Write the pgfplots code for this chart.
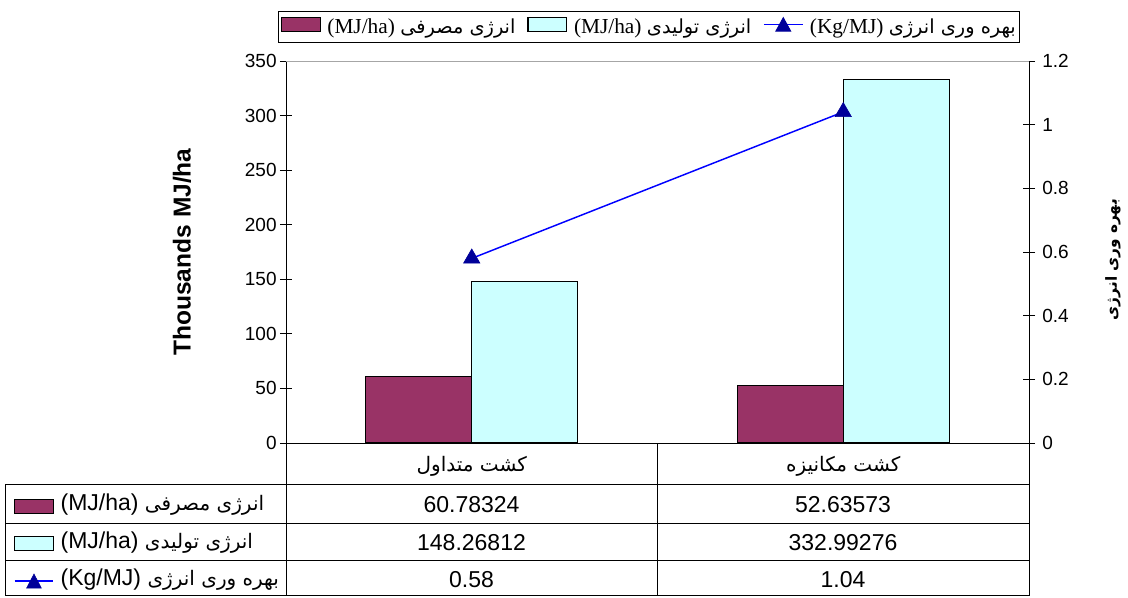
\documentclass[border=0pt]{standalone}
\usepackage{fontspec}
\setmainfont{Liberation Sans}
\newfontfamily\serifrm{Liberation Serif}
\newfontfamily\fa[Script=Arabic]{DejaVu Sans}
\usepackage{pgfplots}
\pgfplotsset{compat=1.18}
\TeXXeTstate=1
\definecolor{barA}{HTML}{993366}
\definecolor{barB}{HTML}{CCFFFF}
\definecolor{lineC}{HTML}{0000FF}
\definecolor{markC}{HTML}{000099}
\newcommand{\fs}[1]{\fontsize{#1}{#1}\selectfont}

\begin{document}
\begin{tikzpicture}[x=0.75pt,y=-0.75pt]
\useasboundingbox (0,0) rectangle (1128,597);
\begin{axis}[
  at={(214.5pt,-332.25pt)}, anchor=south west,
  scale only axis, width=557.25pt, height=286.5pt,
  xmin=-0.5, xmax=1.5, ymin=0, ymax=350,
  axis x line*=bottom, axis y line*=left,
  axis line style={-, line width=0.75pt, black},
  ytick={0,50,100,150,200,250,300,350},
  xtick={0,1},
  xticklabels={{\fa\beginR کشت متداول\endR},{\fa\beginR کشت مکانیزه\endR}},
  x tick style={draw=none},
  xticklabel style={anchor=base, yshift=-17pt, font=\fs{15pt}},
  y tick style={black, line width=0.75pt},
  tick align=center, major tick length=9pt,
  yticklabel style={font=\fs{14.25pt}, xshift=1pt},
  /pgf/number format/assume math mode=true,
  ylabel={\bfseries Thousands MJ/ha},
  ylabel style={at={(axis description cs:-0.14,0.5)}, anchor=center, font=\fs{18.4pt}},
  clip=false,
  legend cell align=left,
  legend style={at={(axis description cs:-0.3661,-0.1073)}, anchor=north west,
    draw=none, fill=none, inner sep=0pt, outer sep=0pt, row sep=0pt,
    font=\fs{17.25pt},
    nodes={inner sep=0pt, text height=20pt, text depth=8pt},
    /tikz/every odd column/.append style={column sep=5pt}},
]
\addplot[ybar, bar width=0.285, bar shift=-0.1425, fill=barA, draw=black, line width=0.9pt, forget plot]
  coordinates {(0,60.78324) (1,52.63573)};
\addplot[ybar, bar width=0.285, bar shift=0.1425, fill=barB, draw=black, line width=0.9pt, forget plot]
  coordinates {(0,148.26812) (1,332.99276)};
\addlegendimage{legend image code/.code={\draw[fill=barA,draw=black,line width=0.9pt] (0pt,-8pt) rectangle (29pt,2.5pt);}}
\addlegendentry{(MJ/ha)~{\fa\fs{15pt}\beginR انرژی مصرفی\endR}}
\addlegendimage{legend image code/.code={\draw[fill=barB,draw=black,line width=0.9pt] (0pt,-8pt) rectangle (29pt,2.5pt);}}
\addlegendentry{(MJ/ha)~{\fa\fs{15pt}\beginR انرژی تولیدی\endR}}
\addlegendimage{legend image code/.code={\draw[lineC,line width=1pt] (0pt,-2.75pt) -- (29pt,-2.75pt); \fill[markC] (9pt,-8pt) -- (20pt,-8pt) -- (14.5pt,2.5pt) -- cycle;}}
\addlegendentry{(Kg/MJ)~{\fa\fs{15pt}\beginR بهره وری انرژی\endR}}
\end{axis}

\begin{axis}[
  at={(214.5pt,-332.25pt)}, anchor=south west,
  scale only axis, width=557.25pt, height=286.5pt,
  xmin=-0.5, xmax=1.5, ymin=0, ymax=1.2,
  axis y line*=right, axis x line=none,
  axis line style={-, line width=0.75pt, black},
  ytick={0,0.2,0.4,0.6,0.8,1,1.2},
  y tick style={black, line width=0.75pt},
  tick align=center, major tick length=9pt,
  yticklabel style={font=\fs{14.25pt}, xshift=2pt},
  /pgf/number format/assume math mode=true,
  ylabel={\fa\bfseries\beginR بهره وری انرژی\endR},
  ylabel style={at={(axis description cs:1.113,0.48)}, anchor=center, font=\fs{11.5pt}},
  clip=false,
  legend columns=3,
  legend style={at={(axis description cs:0.4886,1.089)}, anchor=center,
    draw=black, line width=0.75pt, fill=white, inner xsep=2pt, inner ysep=4.5pt,
    font=\fs{16pt}\serifrm,
    nodes={inner sep=1pt},
    /tikz/every odd column/.append style={column sep=4pt},
    /tikz/every even column/.append style={column sep=8pt}},
]
\addlegendimage{legend image code/.code={\draw[fill=barA,draw=black,line width=0.9pt] (0pt,-3pt) rectangle (29pt,7pt);}}
\addlegendentry{(MJ/ha)~{\fa\fs{14.5pt}\beginR انرژی مصرفی\endR}}
\addlegendimage{legend image code/.code={\draw[fill=barB,draw=black,line width=0.9pt] (0pt,-3pt) rectangle (29pt,7pt);}}
\addlegendentry{(MJ/ha)~{\fa\fs{14.5pt}\beginR انرژی تولیدی\endR}}
\addlegendimage{legend image code/.code={\draw[lineC,line width=1pt] (0pt,2pt) -- (29pt,2pt); \fill[markC] (9pt,-3pt) -- (20pt,-3pt) -- (14.5pt,7pt) -- cycle;}}
\addlegendentry{(Kg/MJ)~{\fa\fs{14.5pt}\beginR بهره وری انرژی\endR}}
\addplot[lineC, line width=1.1pt, mark=triangle*, mark size=7pt,
  mark options={fill=markC, draw=markC, line width=0.5pt}, forget plot]
  coordinates {(0,0.58) (1,1.04)};
\end{axis}

% plot area top border
\draw[gray!70, line width=0.75pt] (286,61) -- (1029,61);
% data table grid
\begin{scope}[line width=0.75pt, black]
\draw (5,484) -- (1029,484);
\draw (5,523) -- (1029,523);
\draw (5,560) -- (1029,560);
\draw (5,595.5) -- (1029,595.5);
\draw (5,484) -- (5,595.5);
\draw (286,443) -- (286,595.5);
\draw (657,443) -- (657,595.5);
\draw (1029,443) -- (1029,595.5);
\end{scope}
\begin{scope}[every node/.style={anchor=base, font=\fs{17.25pt}, inner sep=0pt}]
\node at (471.5,512) {60.78324};
\node at (843,512) {52.63573};
\node at (471.5,550) {148.26812};
\node at (843,550) {332.99276};
\node at (471.5,587) {0.58};
\node at (843,587) {1.04};
\end{scope}
\end{tikzpicture}
\end{document}
